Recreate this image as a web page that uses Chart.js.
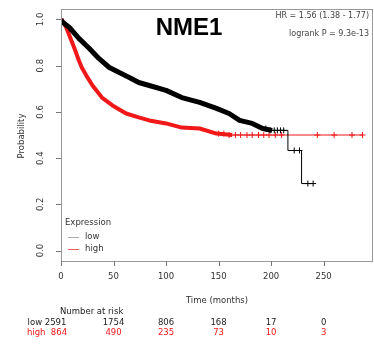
<!DOCTYPE html>
<html>
<head>
<meta charset="utf-8">
<script src="https://cdn.jsdelivr.net/npm/chart.js@4.4.0/dist/chart.umd.min.js"></script>
<style>
  html, body { margin: 0; padding: 0; background: #fff; }
  #wrap { width: 374px; height: 347px; }
</style>
</head>
<body>
<div id="wrap"><canvas id="km"></canvas></div>
<script>
// survival curves (months, probability)
// dense part (thick because of the many censor marks)
const lowTimes = [0, 1, 8, 17, 27, 36, 46, 55, 65, 74, 84, 100, 115, 132, 148, 160, 170, 182, 192, 201];
const lowSurv = [1, 0.99, 0.965, 0.918, 0.874, 0.831, 0.792, 0.771, 0.749, 0.727, 0.714, 0.693, 0.662, 0.641, 0.615, 0.593, 0.563, 0.55, 0.528, 0.52];
// sparse tail, drawn as steps
const lowTailTimes = [201, 216, 229, 241];
const lowTailSurv = [0.52, 0.433, 0.29, 0.29];

const highTimes = [0, 2, 5, 8, 11, 14, 17, 20, 24, 30, 39, 49, 62, 74, 84, 100, 115, 132, 148, 163];
const highSurv = [1, 0.99, 0.965, 0.93, 0.896, 0.86, 0.822, 0.79, 0.758, 0.714, 0.662, 0.628, 0.593, 0.576, 0.563, 0.55, 0.532, 0.528, 0.506, 0.5];
const highTailTimes = [163, 287];
const highTailSurv = [0.5, 0.5];

// censor marks in the sparse parts
const lowCensorT = [195, 199, 203, 206, 209, 212, 222, 227, 235, 240];
const lowCensorS = [0.528, 0.52, 0.52, 0.52, 0.52, 0.52, 0.433, 0.433, 0.29, 0.29];
const highCensorT = [150, 155, 160, 166, 171, 177, 182, 188, 193, 198, 204, 210, 244, 260, 277, 287];
const highCensorS = [0.506, 0.506, 0.5, 0.5, 0.5, 0.5, 0.5, 0.5, 0.5, 0.5, 0.5, 0.5, 0.5, 0.5, 0.5, 0.5];

// number at risk table
const riskTimes = [0, 50, 100, 150, 200, 250];
const lowRisk = [2591, 1754, 806, 168, 17, 0];
const highRisk = [864, 490, 235, 73, 10, 3];

const xTicks = [0, 50, 100, 150, 200, 250];
const yTickLabels = ['0.0', '0.2', '0.4', '0.6', '0.8', '1.0'];
const groupNames = ['low', 'high'];

const RED = '#f01818';
const FONT = '"DejaVu Sans", sans-serif';

function pts(t, s) {
  return t.map((v, i) => ({x: v, y: s[i]}));
}

const decor = {
  id: 'decor',
  afterDraw(chart) {
    const ctx = chart.ctx;
    const a = chart.chartArea;
    const x = chart.scales.x, y = chart.scales.y;
    ctx.save();

    // plot box
    ctx.strokeStyle = '#999';
    ctx.lineWidth = 1;
    ctx.strokeRect(a.left + 0.5, a.top + 0.5, a.right - a.left - 1, a.bottom - a.top);

    // tick marks
    ctx.strokeStyle = '#777';
    ctx.beginPath();
    xTicks.forEach(t => {
      const px = Math.round(x.getPixelForValue(t)) + 0.5;
      ctx.moveTo(px, a.bottom);
      ctx.lineTo(px, a.bottom + 5);
    });
    yTickLabels.forEach(l => {
      const py = Math.round(y.getPixelForValue(parseFloat(l))) + 0.5;
      ctx.moveTo(a.left - 5, py);
      ctx.lineTo(a.left, py);
    });
    ctx.stroke();

    // y tick labels, rotated like R
    ctx.fillStyle = '#333';
    ctx.font = '8.5px ' + FONT;
    ctx.textAlign = 'center';
    ctx.textBaseline = 'middle';
    yTickLabels.forEach(lbl => {
      ctx.save();
      ctx.translate(41, y.getPixelForValue(parseFloat(lbl)));
      ctx.rotate(-Math.PI / 2);
      ctx.fillText(lbl, 0, 0);
      ctx.restore();
    });

    // y title
    ctx.save();
    ctx.translate(22, 136);
    ctx.rotate(-Math.PI / 2);
    ctx.fillText('Probability', 0, 0);
    ctx.restore();

    // x tick labels and title
    xTicks.forEach(t => ctx.fillText(String(t), x.getPixelForValue(t), 277));
    ctx.fillText('Time (months)', (a.left + a.right) / 2, 301);

    // title and stats
    ctx.fillStyle = '#000';
    ctx.font = 'bold 24px "Liberation Sans", Arial, sans-serif';
    ctx.textBaseline = 'alphabetic';
    ctx.fillText('NME1', 189, 35);
    ctx.fillStyle = '#444';
    ctx.font = '8px ' + FONT;
    ctx.textAlign = 'right';
    ctx.textBaseline = 'middle';
    ctx.fillText('HR = 1.56 (1.38 - 1.77)', 369, 16);
    ctx.fillText('logrank P = 9.3e-13', 369, 34);

    // legend
    ctx.textAlign = 'left';
    ctx.font = '8.5px ' + FONT;
    ctx.fillStyle = '#333';
    ctx.fillText('Expression', 65, 223);
    const legCols = ['#aaa', '#f06060'];
    groupNames.forEach((g, i) => {
      const ly = 237 + i * 12;
      ctx.strokeStyle = legCols[i];
      ctx.beginPath();
      ctx.moveTo(68, ly + 0.5);
      ctx.lineTo(79, ly + 0.5);
      ctx.stroke();
      ctx.fillStyle = '#333';
      ctx.fillText(g, 85, ly);
    });

    // number at risk
    ctx.fillStyle = '#222';
    ctx.fillText('Number at risk', 60, 312);
    ctx.textAlign = 'center';
    const rows = [[lowRisk, '#222', 323, 'low '], [highRisk, RED, 333, 'high  ']];
    rows.forEach(([vals, col, ry, lbl]) => {
      ctx.fillStyle = col;
      vals.forEach((v, i) => {
        if (i === 0) {
          ctx.fillText(lbl + v, x.getPixelForValue(riskTimes[i]) - 14, ry);
        } else {
          ctx.fillText(String(v), x.getPixelForValue(riskTimes[i]), ry);
        }
      });
    });
    ctx.restore();
  }
};

new Chart(document.getElementById('km'), {
  type: 'line',
  data: {
    datasets: [
      { label: 'low', data: pts(lowTimes, lowSurv), borderColor: '#000', borderWidth: 5,
        pointRadius: 0, borderJoinStyle: 'round', order: 1 },
      { label: 'low tail', data: pts(lowTailTimes, lowTailSurv), borderColor: '#000', borderWidth: 1,
        stepped: 'before', pointRadius: 0, order: 1 },
      { label: 'low censored', data: pts(lowCensorT, lowCensorS), showLine: false, pointStyle: 'cross',
        pointRadius: 3, borderColor: '#000', borderWidth: 1, order: 0 },
      { label: 'high', data: pts(highTimes, highSurv), borderColor: RED, borderWidth: 4,
        pointRadius: 0, borderJoinStyle: 'round', order: 3 },
      { label: 'high tail', data: pts(highTailTimes, highTailSurv), borderColor: RED, borderWidth: 1,
        stepped: 'before', pointRadius: 0, order: 3 },
      { label: 'high censored', data: pts(highCensorT, highCensorS), showLine: false, pointStyle: 'cross',
        pointRadius: 3, borderColor: RED, borderWidth: 1, order: 2 }
    ]
  },
  options: {
    responsive: true,
    maintainAspectRatio: false,
    animation: false,
    layout: { autoPadding: false, padding: { top: 9, right: 1, left: 0, bottom: 0 } },
    plugins: { legend: { display: false }, tooltip: { enabled: false } },
    scales: {
      x: {
        type: 'linear',
        min: 0,
        max: 297,
        border: { display: false },
        grid: { display: false },
        ticks: { display: false },
        afterFit: s => { s.height = 86; s.paddingLeft = 0; s.paddingRight = 0; }
      },
      y: {
        min: -0.045,
        max: 1.045,
        border: { display: false },
        grid: { display: false },
        ticks: { display: false },
        afterFit: s => { s.width = 61; s.paddingTop = 0; s.paddingBottom = 0; }
      }
    }
  },
  plugins: [decor]
});
</script>
</body>
</html>
